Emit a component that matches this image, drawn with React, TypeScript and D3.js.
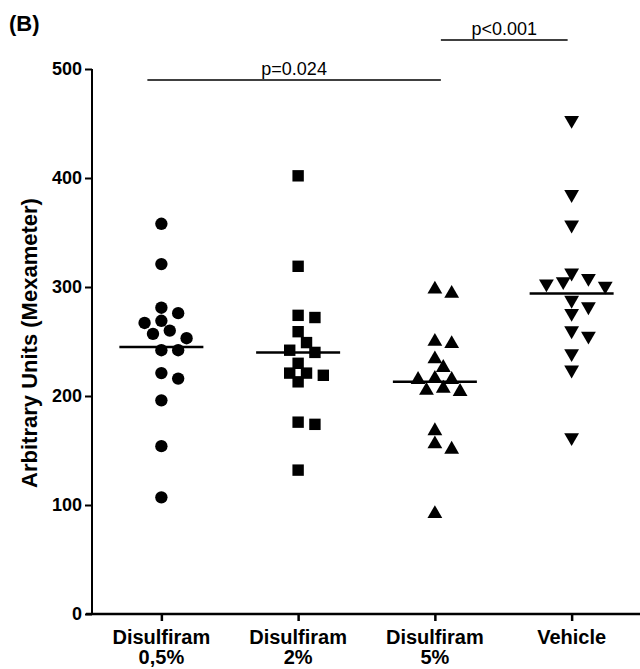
import { useEffect, useRef } from 'react';
import * as d3 from 'd3';

// Category labels (two lines each)
const categories = ['Disulfiram 0,5%', 'Disulfiram 2%', 'Disulfiram 5%', 'Vehicle'];
const labelLine1 = ['Disulfiram', 'Disulfiram', 'Disulfiram', 'Vehicle'];
const labelLine2 = ['0,5%', '2%', '5%', ''];

// Individual values (Mexameter arbitrary units)
const disulfiram05 = [358, 321, 281, 276, 269, 267, 260, 257, 253, 242, 242, 221, 216, 196, 154, 107];
const disulfiram2 = [402, 319, 274, 272, 259, 249, 242, 240, 230, 221, 221, 219, 213, 176, 174, 132];
const disulfiram5 = [298, 294, 250, 248, 234, 226, 216, 215, 215, 207, 205, 204, 168, 156, 151, 92];
const vehicle = [453, 385, 357, 313, 308, 305, 303, 301, 288, 282, 276, 260, 255, 239, 224, 162];

const means = [245, 240, 213, 294];
const yTicks = [0, 100, 200, 300, 400, 500];

const comparisons = [
  { from: 0, to: 2, label: 'p=0.024' },
  { from: 2, to: 3, label: 'p<0.001' },
];

const FONT = '"Liberation Sans", Arial, sans-serif';

// simple beeswarm: spread points that would overlap into side slots
function swarm(vals: number[], y: (v: number) => number, unit: number, minDist: number) {
  const order = vals.map((_, i) => i).sort((a, b) => vals[b] - vals[a]);
  const placed: { dx: number; cy: number }[] = [];
  const offsets = new Array(vals.length).fill(0);
  for (const i of order) {
    const cy = y(vals[i]);
    for (let k = 0; k < 30; k++) {
      const slot = k === 0 ? 0 : k % 2 === 1 ? Math.ceil(k / 2) : -Math.ceil(k / 2);
      const dx = slot * unit;
      if (placed.every((p) => Math.hypot(p.dx - dx, p.cy - cy) >= minDist)) {
        offsets[i] = dx;
        placed.push({ dx, cy });
        break;
      }
    }
  }
  return offsets;
}

export default function App() {
  const ref = useRef<SVGSVGElement>(null);

  useEffect(() => {
    if (!ref.current) return;
    const svg = d3.select(ref.current);
    svg.selectAll('*').remove();

    const width = 640;
    const height = 669;
    const axisX = 92;
    const axisY = 614;

    const x = d3.scalePoint<string>().domain(categories).range([axisX + 1, width]).padding(0.5);
    const y = d3.scaleLinear().domain([0, 500]).range([axisY, 69]);

    svg.append('rect').attr('width', width).attr('height', height).attr('fill', 'white');

    // panel letter
    svg.append('text')
      .attr('x', 9)
      .attr('y', 31)
      .attr('font-family', FONT)
      .attr('font-weight', 'bold')
      .attr('font-size', 22)
      .text('(B)');

    // y axis
    const yAxis = svg.append('g')
      .attr('transform', `translate(${axisX},0)`)
      .call(d3.axisLeft(y).tickValues(yTicks).tickSize(7).tickSizeOuter(0).tickPadding(3));
    yAxis.select('.domain').attr('stroke', '#000').attr('stroke-width', 2).attr('d', `M0,${y(500)}V${axisY}`);
    yAxis.selectAll('.tick line').attr('stroke', '#000').attr('stroke-width', 2);
    yAxis.selectAll('.tick text')
      .attr('font-family', FONT)
      .attr('font-weight', 'bold')
      .attr('font-size', 18)
      .attr('fill', '#000');

    // x axis
    const xAxis = svg.append('g')
      .attr('transform', `translate(0,${axisY})`)
      .call(d3.axisBottom(x).tickSize(7).tickSizeOuter(0).tickFormat(() => ''));
    xAxis.select('.domain').attr('stroke', '#000').attr('stroke-width', 2.5).attr('d', `M${axisX - 6},0H${width}`);
    xAxis.selectAll('.tick line').attr('stroke', '#000').attr('stroke-width', 2.5);

    categories.forEach((c, i) => {
      const t = svg.append('text')
        .attr('x', x(c)!)
        .attr('text-anchor', 'middle')
        .attr('font-family', FONT)
        .attr('font-weight', 'bold')
        .attr('font-size', 20)
        .attr('fill', '#000');
      t.append('tspan').attr('x', x(c)!).attr('y', 644).text(labelLine1[i]);
      t.append('tspan').attr('x', x(c)!).attr('y', 664).text(labelLine2[i]);
    });

    // y axis title
    svg.append('text')
      .attr('transform', `translate(37,343) rotate(-90)`)
      .attr('text-anchor', 'middle')
      .attr('font-family', FONT)
      .attr('font-weight', 'bold')
      .attr('font-size', 22)
      .attr('fill', '#000')
      .text('Arbitrary Units (Mexameter)');

    // points
    const series = [disulfiram05, disulfiram2, disulfiram5, vehicle];
    const symbols = [
      d3.symbol().type(d3.symbolCircle).size(120),
      d3.symbol().type(d3.symbolSquare).size(130),
      d3.symbol().type(d3.symbolTriangle).size(95),
      d3.symbol().type(d3.symbolTriangle).size(95),
    ];

    series.forEach((vals, gi) => {
      const cx = x(categories[gi])!;
      const offsets = swarm(vals, y, 8.4, 12);
      svg.append('g')
        .selectAll('path')
        .data(vals)
        .join('path')
        .attr('d', symbols[gi]() as string)
        .attr('fill', '#000')
        .attr('transform', (v, i) =>
          `translate(${cx + offsets[i]},${y(v)})${gi === 3 ? ' rotate(180)' : ''}`
        );

      // mean line
      svg.append('line')
        .attr('x1', cx - 42)
        .attr('x2', cx + 42)
        .attr('y1', y(means[gi]))
        .attr('y2', y(means[gi]))
        .attr('stroke', '#000')
        .attr('stroke-width', 2.5);
    });

    // significance bars
    const barLevels = [80, 40];
    comparisons.forEach((cmp, i) => {
      const x1 = i === 0 ? x(categories[cmp.from])! - 14 : x(categories[cmp.from])! + 6;
      const x2 = x(categories[cmp.to])! + (i === 0 ? 6 : -4);
      const by = barLevels[i];
      svg.append('line')
        .attr('x1', x1)
        .attr('x2', x2)
        .attr('y1', by)
        .attr('y2', by)
        .attr('stroke', '#000')
        .attr('stroke-width', 1.5);
      svg.append('text')
        .attr('x', (x1 + x2) / 2)
        .attr('y', by - 5)
        .attr('text-anchor', 'middle')
        .attr('font-family', FONT)
        .attr('font-size', 18)
        .attr('fill', '#000')
        .text(cmp.label);
    });
  }, []);

  return (
    <svg
      ref={ref}
      width={640}
      height={669}
      style={{ position: 'absolute', left: 0, top: 0, display: 'block' }}
    />
  );
}
